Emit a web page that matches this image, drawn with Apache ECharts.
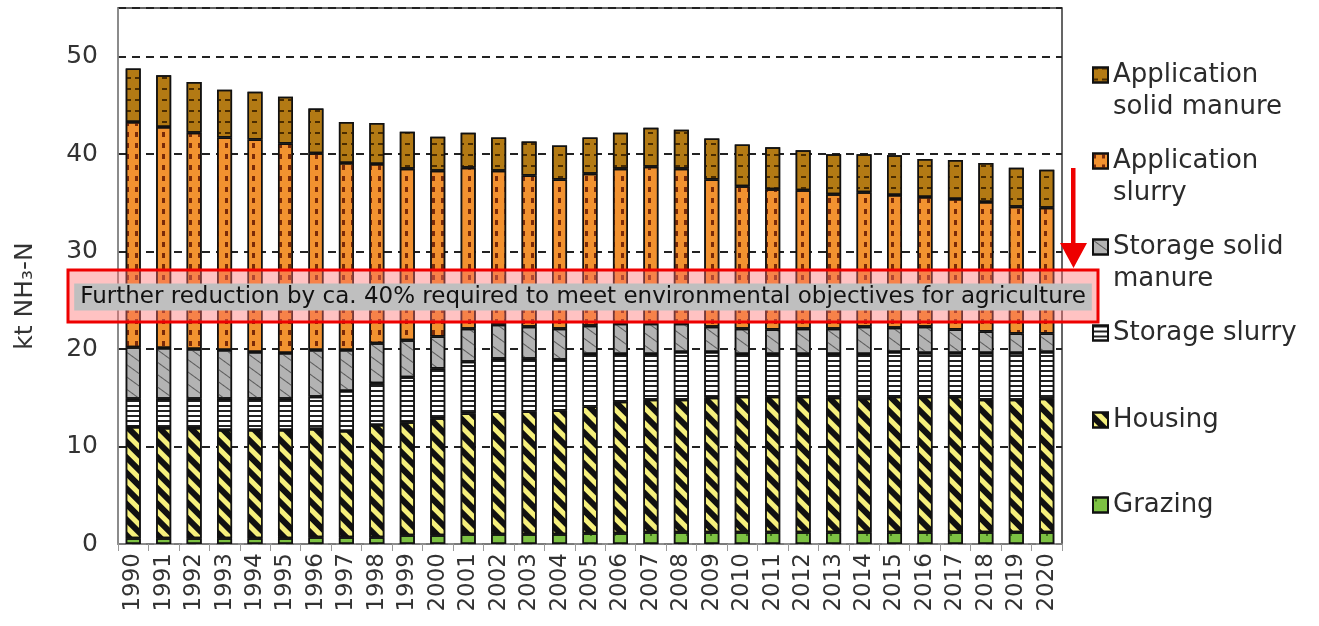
<!DOCTYPE html>
<html><head><meta charset="utf-8">
<script src="https://cdn.jsdelivr.net/npm/echarts@6/dist/echarts.min.js"></script>
<style>html,body{margin:0;padding:0;background:#fff}#c{width:1319px;height:626px}</style>
</head><body><div id="c"></div>
<script>
const years = ['1990','1991','1992','1993','1994','1995','1996','1997','1998','1999','2000','2001','2002','2003','2004','2005','2006','2007','2008','2009','2010','2011','2012','2013','2014','2015','2016','2017','2018','2019','2020'];
const grazing      = [0.6,0.6,0.6,0.6,0.6,0.6,0.7,0.7,0.7,0.9,0.9,1.0,1.0,1.0,1.0,1.1,1.1,1.2,1.2,1.2,1.2,1.2,1.2,1.2,1.2,1.2,1.2,1.2,1.2,1.2,1.2];
const housing      = [11.4,11.3,11.3,11.1,11.1,11.1,11.1,10.9,11.5,11.6,12.0,12.4,12.6,12.6,12.7,13.0,13.5,13.6,13.6,13.8,13.9,13.9,13.9,13.8,13.7,13.9,13.9,13.9,13.6,13.6,13.7];
const storageSlurry= [2.9,3.0,3.0,3.2,3.2,3.2,3.3,4.1,4.3,4.6,5.1,5.3,5.4,5.4,5.2,5.4,4.9,4.7,4.9,4.7,4.4,4.4,4.4,4.5,4.6,4.6,4.5,4.5,4.8,4.8,4.8];
const storageSolid = [5.3,5.2,5.1,5.0,4.8,4.7,4.8,4.2,4.1,3.8,3.3,3.4,3.5,3.3,3.2,2.9,3.1,3.1,2.9,2.6,2.6,2.5,2.6,2.6,2.8,2.5,2.7,2.4,2.2,2.0,1.9];
const appSlurry    = [23.1,22.7,22.2,21.8,21.8,21.5,20.2,19.2,18.4,17.6,17.0,16.5,15.8,15.5,15.3,15.6,15.9,16.1,15.9,15.1,14.6,14.4,14.2,13.8,13.8,13.6,13.3,13.4,13.3,13.0,12.9];
const appSolid     = [5.5,5.3,5.2,4.9,4.9,4.8,4.6,4.2,4.2,3.8,3.5,3.6,3.4,3.5,3.5,3.7,3.7,4.0,4.0,4.2,4.3,4.3,4.1,4.1,3.9,4.1,3.9,4.0,4.0,4.0,3.9];
const yTicks = [0,10,20,30,40,50];
const seriesNames = ['Grazing','Housing','Storage slurry','Storage solid manure','Application slurry','Application solid manure'];
const legendLabels = {
  'Application solid manure':'Application\nsolid manure',
  'Application slurry':'Application\nslurry',
  'Storage solid manure':'Storage solid\nmanure',
  'Storage slurry':'Storage slurry',
  'Housing':'Housing',
  'Grazing':'Grazing'
};
const note = 'Further reduction by ca. 40% required to meet environmental objectives for agriculture';

const FONT = 'DejaVu Sans';
const styles = {
  'Grazing': {color:'#7dc243', decal:{symbol:'circle', symbolSize:0.35, color:'#2d5a10', dashArrayX:[6,6], dashArrayY:[6,8]}},
  'Housing': {color:'#f6f07c', decal:{symbol:'rect', symbolSize:1, color:'#111', dashArrayX:[1,0], dashArrayY:[5.5,4.5], rotation:Math.PI/4}},
  'Storage slurry': {color:'#ffffff', decal:{symbol:'rect', symbolSize:1, color:'#222', dashArrayX:[1,0], dashArrayY:[2,2.5]}},
  'Storage solid manure': {color:'#b3b3b3', decal:{symbol:'rect', symbolSize:1, color:'#5a5a5a', dashArrayX:[1,0], dashArrayY:[1,9], rotation:Math.PI/5}},
  'Application slurry': {color:'#f29230', decal:{symbol:'rect', symbolSize:1, color:'#7a2a08', dashArrayX:[2.5,6], dashArrayY:[5,6]}},
  'Application solid manure': {color:'#b37a14', decal:{symbol:'rect', symbolSize:1, color:'#4a2c00', dashArrayX:[5,4], dashArrayY:[2,9]}}
};
const data = {
  'Grazing':grazing,'Housing':housing,'Storage slurry':storageSlurry,
  'Storage solid manure':storageSolid,'Application slurry':appSlurry,'Application solid manure':appSolid
};

const series = seriesNames.map(n => ({
  name:n, type:'bar', stack:'total', barWidth:15,
  data:data[n],
  itemStyle:{color:styles[n].color, borderColor:'#111', borderWidth:1.5, decal:styles[n].decal},
  emphasis:{disabled:true}
}));

const legendOrder = ['Application solid manure','Application slurry','Storage solid manure','Storage slurry','Housing','Grazing'];
const legendCenters = [75,161,247,333,420,505];
const legends = legendOrder.map((n,i) => {
  const two = legendLabels[n].indexOf('\n') >= 0;
  return {
    orient:'vertical', left:1092, top: two ? legendCenters[i]-48 : legendCenters[i]-16,
    padding:0, itemWidth:15, itemHeight:15, icon:'rect', selectedMode:false,
    data:[{name:n}],
    formatter: name => (legendLabels[name].indexOf('\n') >= 0 ? ' \n' : '') + legendLabels[name],
    textStyle:{fontFamily:FONT, fontSize:26, lineHeight:32, color:'#2b2b2b'}
  };
});

const chart = echarts.init(document.getElementById('c'), null, {renderer:'canvas'});
chart.setOption({
  animation:false,
  backgroundColor:'#fff',
  grid:{left:118, right:257, top:8, bottom:82, show:true, borderColor:'#333', borderWidth:1.5, backgroundColor:'transparent'},
  legend: legends,
  xAxis:{
    type:'category', data:years,
    axisLine:{lineStyle:{color:'#999', width:1.5}},
    axisTick:{show:true, alignWithLabel:false, length:7, lineStyle:{color:'#999'}},
    axisLabel:{rotate:90, fontFamily:FONT, fontSize:23, color:'#333', margin:9, interval:0}
  },
  yAxis:{
    type:'value', min:0, max:55, interval:10,
    name:'kt NH\u2083-N', nameLocation:'middle', nameGap:80,
    nameTextStyle:{fontFamily:FONT, fontSize:25, color:'#333', padding:[0,40,0,0]},
    axisLine:{show:true, lineStyle:{color:'#999', width:1.5}},
    axisTick:{show:false},
    axisLabel:{fontFamily:FONT, fontSize:25, color:'#333', margin:20, showMaxLabel:false},
    splitLine:{show:true, lineStyle:{color:'#222', width:2.2, type:[8,6]}}
  },
  series: series,
  graphic:[
    {type:'rect', z:100, shape:{x:68, y:270, width:1030, height:52}, style:{fill:'rgba(255,110,110,0.42)', stroke:'#ee0000', lineWidth:3}},
    {type:'text', z:101, x:583, y:297, style:{text:note, fontFamily:FONT, fontSize:23, fill:'#111', align:'center', verticalAlign:'middle', backgroundColor:'#bfbfbf', padding:[2,6]}},
    {type:'polygon', z:101, shape:{points:[[1071,168],[1075.5,168],[1075.5,243],[1087,243],[1073.5,268],[1060,243],[1071,243]]}, style:{fill:'#ee0000'}}
  ]
});
</script>
</body></html>
